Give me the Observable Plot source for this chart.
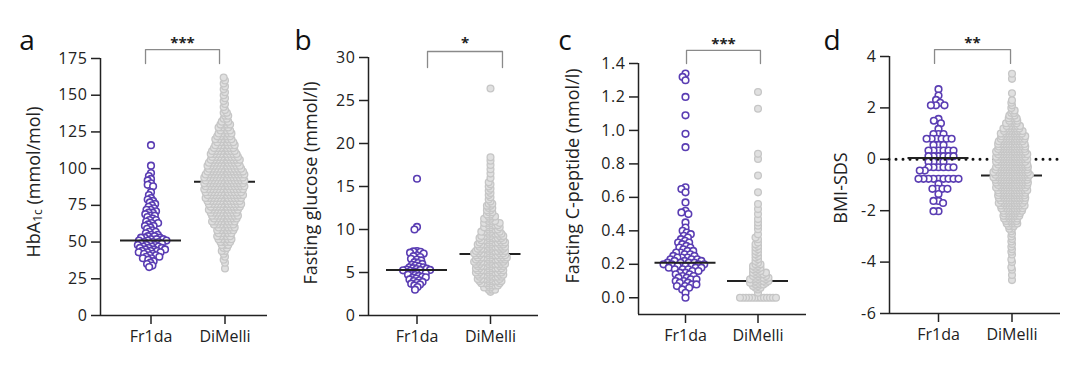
<!DOCTYPE html>
<html><head><meta charset="utf-8">
<script src="https://cdn.jsdelivr.net/npm/d3@7"></script>
<script src="https://cdn.jsdelivr.net/npm/@observablehq/plot@0.6"></script>
<style>
body{margin:0;background:#fff;}
#chart{position:relative;width:1080px;height:377px;font-family:"Open Sans",sans-serif;}
#chart svg{position:absolute;top:0;overflow:visible;}
</style></head><body><div id="chart"></div>
<script>
const groups = ["Fr1da", "DiMelli"];
const sigLabels = ["***", "*", "***", "**"];

// a: HbA1c (mmol/mol)
const hba1cTicks = [0, 25, 50, 75, 100, 125, 150, 175];
const hba1cMedians = [51, 91];
const hba1cFr1da = [116,102,97,95,93,92,90,89,88,84,82,80,79,78,77,76,75,74,73,72,72,71,70,70,69,68,68,67,66,65,65,64,63,63,62,61,61,60,59,58,57,57,56,55,55,54,54,53,53,53,52,52,52,51,51,51,50,50,50,49,49,49,48,48,48,47,47,47,46,46,46,45,45,45,44,44,44,43,43,43,42,42,41,41,40,40,39,39,38,37,36,35,34,33];
const hba1cDiMelliValues = [32,36,38,40,42,44,46,48,50,52,54,56,58,60,62,64,66,68,70,72,74,76,78,80,82,84,86,88,90,92,94,96,98,100,102,104,106,108,110,112,114,116,118,120,122,124,126,128,130,132,134,136,138,140,142,144,146,148,150,152,154,156,158,160,162];
const hba1cDiMelliCounts = [1,1,1,1,1,2,2,3,4,5,5,5,6,6,7,8,8,9,9,10,10,11,11,12,12,12,13,13,13,13,13,13,12,11,11,10,10,9,9,8,7,7,6,6,5,5,4,4,4,3,2,2,2,1,1,1,1,1,1,1,1,1,1,1,1];

// b: Fasting glucose (mmol/l)
const glucoseTicks = [0, 5, 10, 15, 20, 25, 30];
const glucoseMedians = [5.3, 7.15];
const glucoseFr1da = [15.9,10.3,10.0,7.5,7.45,7.4,7.3,7.2,7.0,6.9,6.8,6.6,6.5,6.4,6.2,6.1,6.0,5.9,5.8,5.7,5.6,5.6,5.5,5.45,5.4,5.35,5.3,5.3,5.25,5.2,5.1,5.0,4.95,4.9,4.8,4.75,4.7,4.6,4.5,4.45,4.4,4.3,4.2,4.1,4.0,3.9,3.8,3.7,3.6,3.5,3.3,3.0];
const glucoseDiMelliValues = [2.75,3,3.25,3.5,3.75,4,4.25,4.5,4.75,5,5.25,5.5,5.75,6,6.25,6.5,6.75,7,7.25,7.5,7.75,8,8.25,8.5,8.75,9,9.25,9.5,9.75,10,10.25,10.5,10.75,11,11.25,11.5,11.75,12,12.25,12.5,12.75,13,13.25,13.5,13.75,14,14.25,14.5,14.75,15,15.25,15.5,16,16.5,17,17.5,18,18.4,26.4];
const glucoseDiMelliCounts = [1,3,3,4,5,6,6,6,7,7,7,7,7,8,8,8,8,8,8,8,7,7,7,7,6,6,6,5,5,4,4,4,4,3,3,3,2,2,2,2,2,2,1,1,1,1,1,1,1,1,1,1,1,1,1,1,1,1,1];

// c: Fasting C-peptide (nmol/l)
const cpeptideTicks = [0, 0.2, 0.4, 0.6, 0.8, 1.0, 1.2, 1.4];
const cpeptideMedians = [0.21, 0.10];
const cpeptideFr1da = [1.34,1.32,1.30,1.20,1.09,0.98,0.90,0.66,0.65,0.63,0.57,0.52,0.51,0.50,0.45,0.42,0.40,0.39,0.38,0.37,0.36,0.35,0.34,0.33,0.33,0.32,0.31,0.30,0.30,0.29,0.28,0.28,0.27,0.27,0.26,0.26,0.25,0.25,0.24,0.24,0.24,0.23,0.23,0.23,0.22,0.22,0.22,0.21,0.21,0.21,0.21,0.20,0.20,0.20,0.20,0.19,0.19,0.19,0.18,0.18,0.18,0.17,0.17,0.17,0.16,0.16,0.15,0.15,0.14,0.14,0.13,0.13,0.12,0.12,0.11,0.11,0.10,0.10,0.09,0.09,0.08,0.08,0.07,0.07,0.06,0.05,0.03,0.0];
const cpeptideDiMelliValues = [0,0.03,0.05,0.06,0.07,0.08,0.09,0.10,0.11,0.12,0.13,0.14,0.15,0.16,0.17,0.18,0.19,0.20,0.21,0.22,0.23,0.24,0.25,0.26,0.27,0.28,0.29,0.30,0.31,0.32,0.33,0.35,0.36,0.38,0.41,0.43,0.45,0.47,0.50,0.53,0.56,0.63,0.73,0.83,0.86,1.13,1.23];
const cpeptideDiMelliCounts = [13,1,1,2,2,3,4,4,4,4,3,3,3,2,2,2,2,2,1,1,1,1,1,1,1,1,1,1,1,1,1,1,1,1,1,1,1,1,1,1,1,1,1,1,1,1,1];

// d: BMI-SDS
const bmiTicks = [-6, -4, -2, 0, 2, 4];
const bmiMedians = [0.05, -0.63];
const bmiFr1da = [2.73,2.48,2.31,2.20,2.10,2.10,2.10,1.57,1.50,1.40,1.18,0.98,0.98,0.98,0.80,0.80,0.80,0.80,0.80,0.80,0.56,0.56,0.56,0.34,0.34,0.34,0.34,0.34,0.34,0.12,0.12,0.12,0.12,0.12,0.12,-0.10,-0.10,-0.10,-0.10,-0.31,-0.31,-0.31,-0.31,-0.31,-0.31,-0.44,-0.44,-0.76,-0.76,-0.76,-0.76,-0.76,-0.76,-0.76,-0.76,-0.76,-0.96,-1.15,-1.15,-1.15,-1.15,-1.35,-1.62,-1.62,-1.70,-2.02,-2.02];
const bmiDiMelliValues = [-4.7,-4.5,-4.3,-4.2,-4.0,-3.9,-3.7,-3.6,-3.5,-3.4,-3.3,-3.2,-3.1,-3.0,-2.9,-2.8,-2.7,-2.6,-2.5,-2.4,-2.3,-2.2,-2.1,-2.0,-1.9,-1.8,-1.7,-1.6,-1.5,-1.4,-1.3,-1.2,-1.1,-1.0,-0.9,-0.8,-0.7,-0.6,-0.5,-0.4,-0.3,-0.2,-0.1,0,0.1,0.2,0.3,0.4,0.5,0.6,0.7,0.8,0.9,1.0,1.1,1.2,1.3,1.4,1.5,1.6,1.7,1.8,1.9,2.0,2.1,2.2,2.3,2.57,3.13,3.33];
const bmiDiMelliCounts = [1,1,1,1,1,1,1,1,1,1,1,1,1,1,1,1,2,3,5,5,6,7,7,8,9,10,10,10,11,11,11,12,12,12,13,13,14,14,14,13,13,12,12,12,12,12,12,11,11,11,10,10,10,9,8,7,6,5,4,4,3,2,2,1,1,1,1,1,1,1];

function expand(values, counts) {
  const out = [];
  values.forEach((v, i) => { for (let k = 0; k < (counts[i] || 0); k++) out.push({v}); });
  return out;
}

const W = 270, H = 377;
const PURPLE = "#5a3db3";
const panels = [
  {key: "a", fr: hba1cFr1da, dm: expand(hba1cDiMelliValues, hba1cDiMelliCounts), med: hba1cMedians,
   domain: [0, 175], ticks: hba1cTicks, fmt: d => String(d),
   ml: 100, mt: 58, mb: 62, mr: 3, cx: [150.5, 224.5], sepFr: 3.6, sepDm: 3.23,
   bx: [-0.074, 0.926], by: [171.6, 181.1], sy: 188.6, sig: sigLabels[0],
   label: "hba1c", lx: 33, ly: 182, letterX: 27},
  {key: "b", fr: glucoseFr1da, dm: expand(glucoseDiMelliValues, glucoseDiMelliCounts), med: glucoseMedians,
   domain: [0, 30], ticks: glucoseTicks, fmt: d => String(d),
   ml: 98, mt: 57, mb: 62, mr: 2, cx: [146.5, 220], sepFr: 3.6, sepDm: 2.8,
   bx: [0.143, 1.163], by: [28.84, 30.7], sy: 32.2, sig: sigLabels[1],
   label: "Fasting glucose (mmol/l)", lx: 40, ly: 183, letterX: 33},
  {key: "c", fr: cpeptideFr1da, dm: expand(cpeptideDiMelliValues, cpeptideDiMelliCounts), med: cpeptideMedians,
   domain: [-0.1, 1.4], ticks: cpeptideTicks, fmt: d3.format(".1f"),
   ml: 98, mt: 63, mb: 63, mr: 4, cx: [145, 217.5], sepFr: 4.4, sepDm: 3.0,
   bx: [0.014, 1.034], by: [1.40, 1.478], sy: 1.548, sig: sigLabels[2],
   label: "Fasting C-peptide (nmol/l)", lx: 32, ly: 176, letterX: 25},
  {key: "d", fr: bmiFr1da, dm: expand(bmiDiMelliValues, bmiDiMelliCounts), med: bmiMedians,
   domain: [-6, 4], ticks: bmiTicks, fmt: d => String(d),
   ml: 79, mt: 56, mb: 64, mr: 20, cx: [128, 201.5], sepFr: 5.0, sepDm: 2.65,
   bx: [-0.054, 0.98], by: [3.73, 4.27], sy: 4.712, sig: sigLabels[3],
   label: "BMI-SDS", lx: 30, ly: 188, letterX: 22}
];

const chart = document.getElementById("chart");

panels.forEach((p, pi) => {
  const frameCenter = (p.ml + W - p.mr) / 2;
  const sx = p.cx[1] - p.cx[0];
  const hw = 30.5 / sx;
  const xLeft = (p.ml - p.cx[0]) / sx;
  const frData = p.fr.map(v => ({v}));
  const bracket = [[p.bx[0], p.by[0]], [p.bx[0], p.by[1]], [p.bx[1], p.by[1]], [p.bx[1], p.by[0]]];
  const marks = [
    Plot.ruleX([xLeft], {stroke: "#222", strokeWidth: 1.5}),
    Plot.ruleY([p.domain[0]], {stroke: "#222", strokeWidth: 1.5}),
    Plot.dot(frData, Plot.dodgeX({anchor: "middle", padding: 0}, {y: "v", r: p.sepFr / 2, dx: p.cx[0] - frameCenter, stroke: PURPLE, fill: "white", strokeWidth: 1.6})),
    p.key === "d" ? Plot.ruleY([0], {stroke: "#111", strokeWidth: 3, strokeDasharray: "0,7", strokeLinecap: "round"}) : null,
    Plot.ruleY([p.med[1]], {x1: 1 - hw, x2: 1 + hw, stroke: "#222", strokeWidth: 2}),
    Plot.dot(p.dm, Plot.dodgeX({anchor: "middle", padding: 0}, {y: "v", r: p.sepDm / 2, dx: p.cx[1] - frameCenter, stroke: "#c6c6c6", fill: "#e0e0e0", strokeWidth: 1.3})),
    Plot.ruleY([p.med[0]], {x1: -hw, x2: hw, stroke: "#222", strokeWidth: 2}),
    Plot.line(bracket, {x: d => d[0], y: d => d[1], stroke: "#8a8a8a", strokeWidth: 1.3}),
    Plot.text([p.sig], {x: (p.bx[0] + p.bx[1]) / 2, y: p.sy, text: d => d, fontSize: 15, fontWeight: "bold", fill: "#222", dy: 5}),
    Plot.axisY({ticks: p.ticks, tickFormat: p.fmt, tickSize: 9, tickPadding: 4, fontSize: 16, label: null, stroke: "#222", strokeWidth: 1.5, fill: "#222"}),
    Plot.axisX({ticks: [0, 1], tickFormat: i => groups[i], tickSize: 9, tickPadding: 6, fontSize: 16, label: null, stroke: "#222", strokeWidth: 1.5, fill: "#222"})
  ].filter(Boolean);
  const svg = Plot.plot({
    width: W, height: H,
    marginLeft: p.ml, marginTop: p.mt, marginBottom: p.mb, marginRight: p.mr,
    x: {type: "linear", domain: [0, 1], range: p.cx},
    y: {domain: p.domain},
    style: {fontFamily: "'Open Sans', sans-serif", fontSize: "15px", color: "#222", background: "transparent", overflow: "visible"},
    marks
  });
  svg.style.left = (pi * W) + "px";
  chart.appendChild(svg);
  const s = d3.select(svg);
  // the swarm layout packs the circles tightly; draw them at the original's size so they overlap
  const dotGroups = s.selectAll('g[aria-label="dot"]').nodes();
  if (dotGroups[0]) d3.select(dotGroups[0]).selectAll("circle").attr("r", 3.3);
  if (dotGroups[1]) d3.select(dotGroups[1]).selectAll("circle").attr("r", 3.4);
  s.selectAll('g[aria-label="y-axis tick label"] text').attr("letter-spacing", "0.6px");
  const t = s.append("text")
    .attr("transform", `translate(${p.lx},${p.ly}) rotate(-90)`)
    .attr("text-anchor", "middle")
    .attr("dominant-baseline", "central")
    .attr("font-size", 18)
    .attr("fill", "#222")
    .attr("font-family", "'Open Sans', sans-serif");
  if (p.label === "hba1c") {
    t.append("tspan").text("HbA");
    t.append("tspan").attr("font-size", 12).attr("dy", 4).text("1c");
    t.append("tspan").attr("dy", -4).text(" (mmol/mol)");
  } else {
    t.text(p.label);
  }
  s.append("text")
    .attr("x", p.letterX).attr("y", 50)
    .attr("font-size", 28)
    .attr("fill", "#111")
    .attr("font-family", "'Open Sans', sans-serif")
    .text(p.key);
});
</script>
</body></html>
